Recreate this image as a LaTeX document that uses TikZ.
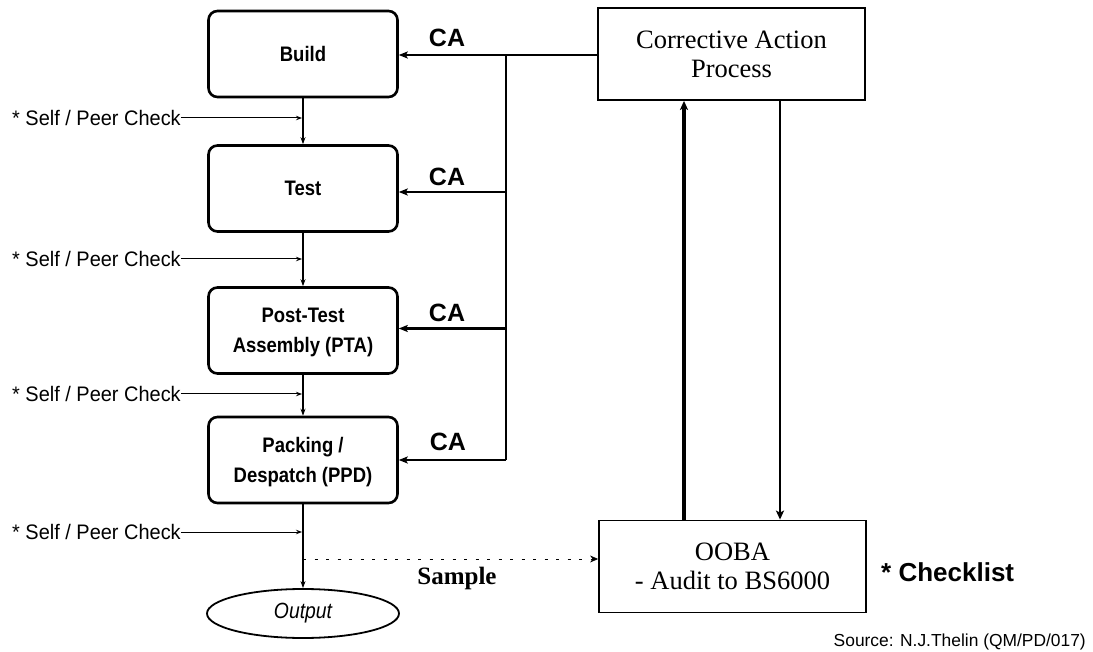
\documentclass[tikz,border=0pt]{standalone}
\usepackage{fontspec}
\setmainfont{Liberation Serif}
\setsansfont{Liberation Sans}
\newfontfamily\condsans[FakeStretch=0.95]{Liberation Sans}
\newfontfamily\narrowsans[FakeStretch=0.88]{Liberation Sans}
\usetikzlibrary{arrows.meta,shapes.geometric}
\begin{document}
\begin{tikzpicture}[x=1pt,y=-1pt,
  procbox/.style={draw,line width=2.6pt,rounded corners=9pt,minimum width=189pt,minimum height=86pt,
    align=center,text depth=0pt,font=\narrowsans\bfseries\fontsize{21}{30.5}\selectfont},
  plainbox/.style={draw,line width=1.8pt,minimum width=267pt,minimum height=92pt,align=center,
    font=\rmfamily\fontsize{26.5}{30}\selectfont,inner sep=0pt},
  flow/.style={line width=1.3pt,-{Stealth[length=7pt,width=5pt]}},
  spline/.style={line width=1pt,-{Stealth[length=6pt,width=4.5pt]}},
  spl/.style={anchor=west,inner sep=0pt,font=\condsans\fontsize{21}{24}\selectfont},
  calbl/.style={inner sep=0pt,font=\sffamily\bfseries\fontsize{25}{28}\selectfont},
  caline/.style={line width=2.6pt},
  caarrow/.style={line width=2.6pt,-{Stealth[length=9pt,width=7pt,inset=2pt]}},
]
\useasboundingbox (0,0) rectangle (1093,652);

% process boxes
\node[procbox] (build) at (303,54) {Build};
\node[procbox] (test) at (303,188.5) {Test};
\node[procbox] (pta) at (303,330.5) {Post-Test\\Assembly (PTA)};
\node[procbox] (ppd) at (303,460) {Packing /\\Despatch (PPD)};
\node[draw,ellipse,line width=1.8pt,minimum width=192pt,minimum height=49pt,inner sep=0pt,
  font=\narrowsans\itshape\fontsize{22}{24}\selectfont] (out) at (303,613.5) {Output};

% corrective action process and OOBA
\node[plainbox] (cap) at (731.5,54) {Corrective Action\\[-1pt]Process};
\node[plainbox] (ooba) at (732.5,566.5) {OOBA\\[-1pt]- Audit to BS6000};

% flow
\draw[flow] (build) -- (test);
\draw[flow] (test) -- (pta);
\draw[flow] (pta) -- (ppd);
\draw[flow] (ppd) -- (out);

% self / peer checks
\node[spl] (sp1) at (12,118) {* Self / Peer Check};
\node[spl] (sp2) at (12,259) {* Self / Peer Check};
\node[spl] (sp3) at (12,394) {* Self / Peer Check};
\node[spl] (sp4) at (12,532) {* Self / Peer Check};
\draw[spline] (sp1.east) -- ([xshift=-1pt]sp1.east -| build.south);
\draw[spline] (sp2.east) -- ([xshift=-1pt]sp2.east -| build.south);
\draw[spline] (sp3.east) -- ([xshift=-1pt]sp3.east -| build.south);
\draw[spline] (sp4.east) -- ([xshift=-1pt]sp4.east -| build.south);

% corrective action feedback
\coordinate (t1) at (506,55);
\coordinate (t2) at (506,192);
\coordinate (t3) at (506,328.5);
\coordinate (t4) at (506,460);
\draw[caline] (cap.west |- t1) -- (t1);
\draw[caline] (t1) -- (t4);
\draw[caarrow] (t1) -- (t1 -| build.east);
\draw[caarrow] (t2) -- (t2 -| test.east);
\draw[caarrow] (t3) -- (t3 -| pta.east);
\draw[caarrow] (t4) -- (t4 -| ppd.east);
\node[calbl] (ca1) at (447,38) {CA};
\node[calbl] (ca2) at (447,177) {CA};
\node[calbl] (ca3) at (447,313) {CA};
\node[calbl] (ca4) at (448,442) {CA};

% audit loop
\draw[line width=3.2pt,-{Stealth[length=9pt,width=8pt,inset=2pt]}] ([xshift=-48.5pt]ooba.north) -- ([xshift=-48.5pt]ooba.north |- cap.south);
\draw[line width=2.4pt,-{Stealth[length=9pt,width=8pt,inset=2pt]}] ([xshift=48.5pt]cap.south) -- ([xshift=48.5pt]cap.south |- ooba.north);

% sample
\coordinate (smp) at (303,559);
\draw[line width=0.8pt,dash pattern=on 3pt off 8.5pt,-{Stealth[length=8pt,width=7pt,inset=2.5pt]}] (smp) -- (smp -| ooba.west);
\node[font=\rmfamily\bfseries\fontsize{25}{28}\selectfont] (sample) at (457,578) {Sample};

\node[anchor=west,inner sep=0pt,font=\sffamily\bfseries\fontsize{26}{28}\selectfont] (check) at (881,572) {* Checklist};
\node[anchor=east,inner sep=0pt,font=\sffamily\fontsize{17.4}{20}\selectfont] (src) at (1086,642) {Source: N.J.Thelin (QM/PD/017)};
\end{tikzpicture}
\end{document}
